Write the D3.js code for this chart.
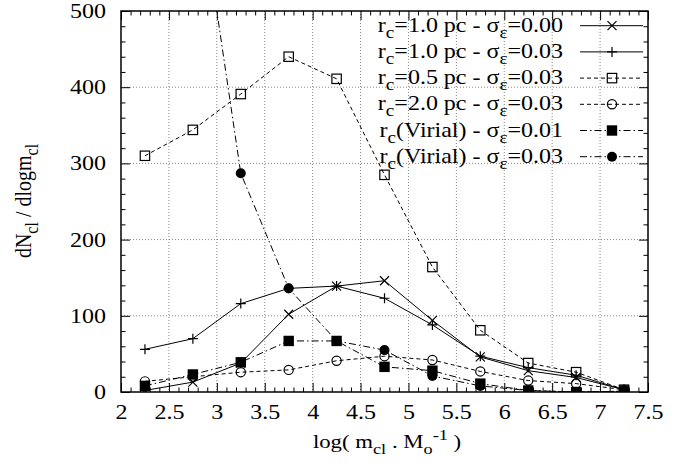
<!DOCTYPE html>
<html>
<head>
<meta charset="utf-8">
<script src="https://cdn.jsdelivr.net/npm/d3@7"></script>
<style>
  body { margin: 0; background: #fff; }
</style>
</head>
<body>
<div id="box"></div>
<script>
// cluster mass function
var logMass = [2.25, 2.75, 3.25, 3.75, 4.25, 4.75, 5.25, 5.75, 6.25, 6.75, 7.25];

var rc10s000 = [2, 13, 38, 102, 139, 146, 94, 46, 28, 19, 3];
var rc10s003 = [56, 70, 116, 136, 139, 123, 88, 47, 32, 22, 3];
var rc05s003 = [310, 344, 391, 440, 411, 285, 164, 81, 38, 26, 3];
var rc20s003 = [14, 20, 26, 29, 41, 47, 42, 27, 15, 11, 3];
var virS001  = [8, 23, 39, 67, 67, 33, 28, 11, 2, 0, 1];
var virS003  = [null, 713, 287, 136, 67, 55, 21, 8, 2, 0, 1];

// legend labels: [normal, sub, normal, sub, normal]
var legendLabels = [
  ["r", "c", "=1.0 pc - \u03c3", "\u03b5", "=0.00"],
  ["r", "c", "=1.0 pc - \u03c3", "\u03b5", "=0.03"],
  ["r", "c", "=0.5 pc - \u03c3", "\u03b5", "=0.03"],
  ["r", "c", "=2.0 pc - \u03c3", "\u03b5", "=0.03"],
  ["r", "c", "(Virial) - \u03c3", "\u03b5", "=0.01"],
  ["r", "c", "(Virial) - \u03c3", "\u03b5", "=0.03"]
];

var xTicks = [2, 2.5, 3, 3.5, 4, 4.5, 5, 5.5, 6, 6.5, 7, 7.5];
var yTicks = [0, 100, 200, 300, 400, 500];

(function() {
  var width = 683;
  var height = 470;
  var pl = 121, pr = 648, pt = 11, pb = 392;
  var serif = "'Liberation Serif', 'Times New Roman', 'DejaVu Serif', serif";
  var stretch = "scale(1.2,1)";   // the original type is drawn wide

  var svg = d3.select("#box").append("svg")
    .attr("width", width)
    .attr("height", height)
    .style("font-family", serif);

  var x = d3.scaleLinear().domain([2, 7.5]).range([pl, pr]);
  var y = d3.scaleLinear().domain([0, 500]).range([pb, pt]);

  var minorX = d3.range(20, 76).map(function(d) { return d / 10; })
    .filter(function(d) { return Math.abs(d * 2 - Math.round(d * 2)) > 1e-6; });
  var minorY = d3.range(0, 501, 20).filter(function(d) { return d % 100 != 0; });

  // grid
  svg.append("g").selectAll("line")
    .data(xTicks.slice(1, -1))
    .enter().append("line")
    .attr("x1", function(d) { return x(d); }).attr("x2", function(d) { return x(d); })
    .attr("y1", pt).attr("y2", pb)
    .attr("stroke", "#888").attr("stroke-width", 1).attr("stroke-dasharray", "1,2");
  svg.append("g").selectAll("line")
    .data(yTicks.slice(1, -1))
    .enter().append("line")
    .attr("y1", function(d) { return y(d); }).attr("y2", function(d) { return y(d); })
    .attr("x1", pl).attr("x2", pr)
    .attr("stroke", "#888").attr("stroke-width", 1).attr("stroke-dasharray", "1,2");

  // ticks on all four sides, pointing in
  function ticks(axis, tx, ty) {
    var g = svg.append("g").attr("transform", "translate(" + tx + "," + ty + ")").call(axis);
    g.select(".domain").remove();
    g.attr("font-family", null);
    g.selectAll("line").attr("stroke", "#000").attr("stroke-width", 1);
    return g;
  }
  var gx = ticks(d3.axisBottom(x).tickValues(xTicks).tickSizeInner(-9).tickSizeOuter(0)
    .tickPadding(13).tickFormat(d3.format("")), 0, pb);
  gx.selectAll("text").style("font-family", serif).attr("font-size", 20).attr("fill", "#000")
    .attr("transform", stretch);
  var gy = ticks(d3.axisLeft(y).tickValues(yTicks).tickSizeInner(-9).tickSizeOuter(0)
    .tickPadding(12.5).tickFormat(d3.format("d")), pl, 0);
  gy.selectAll("text").style("font-family", serif).attr("font-size", 20).attr("fill", "#000")
    .attr("transform", stretch);

  ticks(d3.axisBottom(x).tickValues(minorX).tickSize(-4.5).tickFormat(""), 0, pb);
  ticks(d3.axisLeft(y).tickValues(minorY).tickSize(-4.5).tickFormat(""), pl, 0);
  ticks(d3.axisTop(x).tickValues(xTicks).tickSize(-9).tickFormat(""), 0, pt);
  ticks(d3.axisTop(x).tickValues(minorX).tickSize(-4.5).tickFormat(""), 0, pt);
  ticks(d3.axisRight(y).tickValues(yTicks).tickSize(-9).tickFormat(""), pr, 0);
  ticks(d3.axisRight(y).tickValues(minorY).tickSize(-4.5).tickFormat(""), pr, 0);

  svg.append("defs").append("clipPath").attr("id", "plotclip")
    .append("rect").attr("x", pl).attr("y", pt).attr("width", pr - pl).attr("height", pb - pt);

  var series = [
    { values: rc10s000, dash: null, mark: "x" },
    { values: rc10s003, dash: null, mark: "plus" },
    { values: rc05s003, dash: "4,3", mark: "square" },
    { values: rc20s003, dash: "4,3", mark: "circle" },
    { values: virS001, dash: "7,3,1.5,3", mark: "fsquare" },
    { values: virS003, dash: "7,3,1.5,3", mark: "fcircle" }
  ];

  function drawMark(g, kind) {
    if (kind == "x") {
      g.append("path").attr("d", "M-4.5,-4.5L4.5,4.5M-4.5,4.5L4.5,-4.5")
        .attr("stroke", "#000").attr("stroke-width", 1.2).attr("fill", "none");
    } else if (kind == "plus") {
      g.append("path").attr("d", "M-5,0H5M0,-5V5")
        .attr("stroke", "#000").attr("stroke-width", 1.2).attr("fill", "none");
    } else if (kind == "square") {
      g.append("rect").attr("x", -4.7).attr("y", -4.7).attr("width", 9.4).attr("height", 9.4)
        .attr("stroke", "#000").attr("stroke-width", 1.2).attr("fill", "none");
    } else if (kind == "circle") {
      g.append("circle").attr("r", 4.6)
        .attr("stroke", "#000").attr("stroke-width", 1.2).attr("fill", "none");
    } else if (kind == "fsquare") {
      g.append("rect").attr("x", -5.2).attr("y", -5.2).attr("width", 10.4).attr("height", 10.4)
        .attr("fill", "#000");
    } else {
      g.append("circle").attr("r", 5).attr("fill", "#000");
    }
  }

  var line = d3.line()
    .defined(function(d) { return d[1] != null; })
    .x(function(d) { return x(d[0]); })
    .y(function(d) { return y(d[1]); });

  var plot = svg.append("g").attr("clip-path", "url(#plotclip)");
  series.forEach(function(s) {
    var pts = logMass.map(function(m, i) { return [m, s.values[i]]; });
    plot.append("path")
      .attr("d", line(pts))
      .attr("fill", "none")
      .attr("stroke", "#000")
      .attr("stroke-width", 1)
      .attr("stroke-dasharray", s.dash);
    pts.filter(function(d) { return d[1] != null && d[1] <= 500; }).forEach(function(d) {
      drawMark(plot.append("g").attr("transform", "translate(" + x(d[0]) + "," + y(d[1]) + ")"), s.mark);
    });
  });

  // text with sub/superscripts; parts = [[str, "n"|"sub"|"sup"], ...]
  function richText(t, parts, size) {
    var shift = 0;
    t.style("font-family", serif).attr("fill", "#000");
    parts.forEach(function(p) {
      var target = p[1] == "sub" ? size * 0.3 : (p[1] == "sup" ? -size * 0.4 : 0);
      t.append("tspan")
        .attr("dy", target - shift)
        .attr("font-size", p[1] == "n" ? size : size * 0.8)
        .text(p[0]);
      shift = target;
    });
  }

  // legend
  var legend = svg.append("g");
  legendLabels.forEach(function(lab, i) {
    var ly = 25.7 + i * 26.2;
    var t = legend.append("text")
      .attr("transform", "translate(563," + (ly + 6) + ") " + stretch)
      .attr("text-anchor", "end");
    richText(t, lab.map(function(s, j) { return [s, j % 2 ? "sub" : "n"]; }), 20);
    legend.append("line")
      .attr("x1", 580).attr("x2", 643).attr("y1", ly).attr("y2", ly)
      .attr("stroke", "#000").attr("stroke-width", 1)
      .attr("stroke-dasharray", series[i].dash);
    drawMark(legend.append("g").attr("transform", "translate(612," + ly + ")"), series[i].mark);
  });

  svg.append("rect")
    .attr("x", pl).attr("y", pt).attr("width", pr - pl).attr("height", pb - pt)
    .attr("fill", "none").attr("stroke", "#000").attr("stroke-width", 1.5);

  // axis titles
  var xt = svg.append("text")
    .attr("transform", "translate(387,448) " + stretch)
    .attr("text-anchor", "middle");
  richText(xt, [["log( m", "n"], ["cl", "sub"], [" . M", "n"], ["o", "sub"], ["-1", "sup"], [" )", "n"]], 19);

  var yt = svg.append("text")
    .attr("transform", "translate(31,201) rotate(-90) scale(1,1.2)")
    .attr("text-anchor", "middle");
  richText(yt, [["dN", "n"], ["cl", "sub"], [" / dlogm", "n"], ["cl", "sub"]], 20);
})();
</script>
</body>
</html>
